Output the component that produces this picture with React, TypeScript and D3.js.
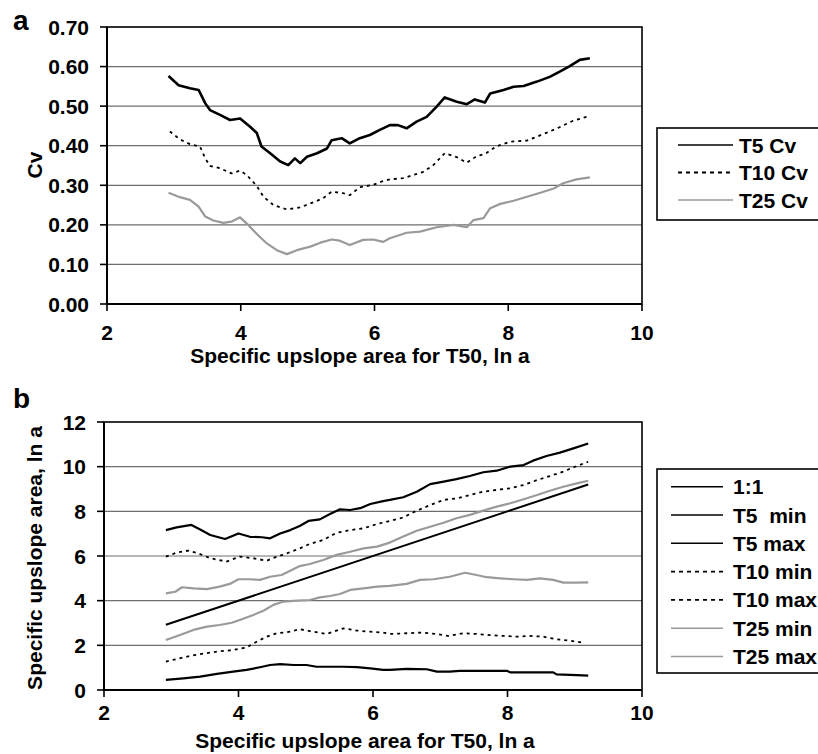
import React from "react";
import * as d3 from "d3";

// Panel a: coefficient of variation vs. T50 upslope area
const xTicks = [2, 4, 6, 8, 10];
const cvTicks = [0, 0.1, 0.2, 0.3, 0.4, 0.5, 0.6, 0.7];
const areaTicks = [0, 2, 4, 6, 8, 10, 12];

const t5Cv: [number, number][] = [
  [2.92, 0.576], [3.07, 0.553], [3.24, 0.545], [3.37, 0.541], [3.47, 0.507], [3.54, 0.49],
  [3.69, 0.478], [3.84, 0.465], [3.99, 0.469], [4.14, 0.448], [4.24, 0.432], [4.31, 0.398],
  [4.44, 0.381], [4.59, 0.36], [4.71, 0.351], [4.81, 0.368], [4.89, 0.356], [4.99, 0.372],
  [5.14, 0.381], [5.29, 0.393], [5.36, 0.414], [5.51, 0.419], [5.63, 0.406], [5.78, 0.419],
  [5.93, 0.427], [6.08, 0.44], [6.23, 0.452], [6.35, 0.452], [6.48, 0.444], [6.63, 0.461],
  [6.78, 0.473], [6.93, 0.499], [7.05, 0.522], [7.23, 0.511], [7.38, 0.505], [7.5, 0.517],
  [7.65, 0.509], [7.73, 0.532], [7.93, 0.541], [8.08, 0.549], [8.23, 0.551], [8.43, 0.562],
  [8.62, 0.574], [8.77, 0.587], [8.92, 0.601], [9.07, 0.617], [9.22, 0.621],
];

const t10Cv: [number, number][] = [
  [2.94, 0.436], [3.09, 0.416], [3.24, 0.404], [3.39, 0.398], [3.47, 0.368], [3.54, 0.349],
  [3.69, 0.343], [3.86, 0.33], [3.99, 0.337], [4.09, 0.326], [4.24, 0.298], [4.34, 0.271],
  [4.49, 0.25], [4.69, 0.239], [4.89, 0.244], [5.04, 0.254], [5.23, 0.267], [5.36, 0.284],
  [5.53, 0.28], [5.63, 0.275], [5.78, 0.295], [5.98, 0.301], [6.13, 0.311], [6.23, 0.315],
  [6.43, 0.318], [6.58, 0.326], [6.73, 0.334], [6.88, 0.351], [7.05, 0.381], [7.23, 0.371],
  [7.38, 0.357], [7.53, 0.374], [7.65, 0.379], [7.83, 0.399], [8.03, 0.41], [8.28, 0.413],
  [8.43, 0.423], [8.62, 0.436], [8.77, 0.447], [8.97, 0.463], [9.17, 0.473],
];

const t25Cv: [number, number][] = [
  [2.92, 0.281], [3.09, 0.27], [3.24, 0.263], [3.37, 0.246], [3.47, 0.221], [3.59, 0.211],
  [3.74, 0.205], [3.86, 0.208], [3.99, 0.219], [4.11, 0.2], [4.24, 0.177], [4.39, 0.153],
  [4.54, 0.136], [4.69, 0.126], [4.84, 0.136], [5.04, 0.145], [5.19, 0.155], [5.36, 0.163],
  [5.48, 0.16], [5.63, 0.149], [5.83, 0.162], [5.98, 0.163], [6.13, 0.157], [6.23, 0.166],
  [6.48, 0.18], [6.68, 0.183], [6.93, 0.194], [7.18, 0.2], [7.38, 0.194], [7.48, 0.212],
  [7.63, 0.217], [7.73, 0.242], [7.88, 0.253], [8.08, 0.261], [8.28, 0.271], [8.48, 0.281],
  [8.68, 0.292], [8.82, 0.305], [9.02, 0.315], [9.22, 0.32],
];

// Panel b: min / max upslope area bounds vs. T50 upslope area
const oneToOne: [number, number][] = [[2.92, 2.92], [9.2, 9.2]];

const t5Max: [number, number][] = [
  [2.92, 7.16], [3.08, 7.28], [3.3, 7.39], [3.43, 7.19], [3.58, 6.94], [3.8, 6.76],
  [4.0, 7.01], [4.17, 6.86], [4.35, 6.84], [4.47, 6.79], [4.62, 7.01], [4.77, 7.16],
  [4.91, 7.34], [5.04, 7.57], [5.21, 7.64], [5.36, 7.88], [5.51, 8.09], [5.66, 8.06],
  [5.81, 8.14], [5.96, 8.33], [6.15, 8.46], [6.25, 8.51], [6.45, 8.63], [6.65, 8.88],
  [6.85, 9.22], [7.05, 9.33], [7.24, 9.44], [7.44, 9.58], [7.64, 9.75], [7.84, 9.82],
  [8.04, 10.0], [8.24, 10.07], [8.38, 10.27], [8.58, 10.48], [8.78, 10.63], [8.98, 10.82],
  [9.2, 11.04],
];

const t10Max: [number, number][] = [
  [2.92, 5.97], [3.08, 6.15], [3.25, 6.24], [3.4, 6.12], [3.58, 5.9], [3.82, 5.75],
  [4.02, 5.97], [4.22, 5.9], [4.42, 5.79], [4.57, 5.97], [4.72, 6.12], [4.91, 6.34],
  [5.06, 6.54], [5.26, 6.72], [5.46, 7.04], [5.66, 7.16], [5.86, 7.24], [6.06, 7.43],
  [6.25, 7.57], [6.45, 7.73], [6.65, 8.03], [6.85, 8.28], [7.05, 8.51], [7.24, 8.58],
  [7.44, 8.73], [7.64, 8.88], [7.84, 8.96], [8.04, 9.03], [8.24, 9.18], [8.44, 9.4],
  [8.63, 9.58], [8.83, 9.78], [9.03, 10.03], [9.2, 10.22],
];

const t25Max: [number, number][] = [
  [2.92, 4.33], [3.06, 4.4], [3.16, 4.6], [3.33, 4.55], [3.53, 4.52], [3.72, 4.63],
  [3.87, 4.75], [4.0, 4.96], [4.17, 4.96], [4.32, 4.93], [4.47, 5.07], [4.64, 5.15],
  [4.77, 5.34], [4.91, 5.55], [5.06, 5.64], [5.26, 5.82], [5.46, 6.05], [5.66, 6.19],
  [5.86, 6.34], [6.06, 6.42], [6.25, 6.6], [6.45, 6.87], [6.65, 7.13], [6.85, 7.31],
  [7.05, 7.49], [7.24, 7.69], [7.44, 7.84], [7.64, 8.03], [7.84, 8.21], [8.04, 8.36],
  [8.24, 8.54], [8.44, 8.73], [8.63, 8.92], [8.83, 9.1], [9.03, 9.25], [9.2, 9.37],
];

const t25Min: [number, number][] = [
  [2.92, 2.24], [3.13, 2.46], [3.33, 2.69], [3.53, 2.84], [3.72, 2.91], [3.9, 3.01],
  [4.05, 3.17], [4.22, 3.36], [4.37, 3.55], [4.52, 3.81], [4.67, 3.96], [4.87, 4.0],
  [5.06, 4.03], [5.21, 4.15], [5.36, 4.21], [5.51, 4.3], [5.66, 4.48], [5.86, 4.55],
  [6.06, 4.63], [6.25, 4.66], [6.5, 4.75], [6.7, 4.93], [6.9, 4.96], [7.14, 5.07],
  [7.37, 5.25], [7.54, 5.15], [7.69, 5.05], [7.89, 5.0], [8.09, 4.96], [8.29, 4.93],
  [8.48, 5.0], [8.68, 4.93], [8.83, 4.81], [9.03, 4.81], [9.2, 4.82],
];

const t10Min: [number, number][] = [
  [2.92, 1.27], [3.18, 1.46], [3.43, 1.61], [3.68, 1.72], [3.92, 1.79], [4.12, 1.91],
  [4.27, 2.16], [4.42, 2.39], [4.57, 2.54], [4.77, 2.61], [4.91, 2.72], [5.11, 2.61],
  [5.31, 2.51], [5.41, 2.61], [5.56, 2.76], [5.76, 2.66], [5.96, 2.61], [6.15, 2.57],
  [6.25, 2.51], [6.5, 2.54], [6.72, 2.57], [6.95, 2.51], [7.12, 2.42], [7.34, 2.54],
  [7.54, 2.51], [7.74, 2.46], [7.94, 2.42], [8.14, 2.39], [8.33, 2.42], [8.53, 2.39],
  [8.73, 2.27], [8.93, 2.21], [9.12, 2.12],
];

const t5Min: [number, number][] = [
  [2.92, 0.45], [3.18, 0.52], [3.43, 0.6], [3.68, 0.72], [3.92, 0.82], [4.12, 0.9],
  [4.32, 1.02], [4.47, 1.12], [4.62, 1.16], [4.82, 1.12], [5.01, 1.12], [5.16, 1.04],
  [5.36, 1.04], [5.56, 1.04], [5.76, 1.02], [5.96, 0.97], [6.15, 0.9], [6.25, 0.9],
  [6.5, 0.95], [6.8, 0.93], [6.95, 0.82], [7.14, 0.82], [7.29, 0.86], [7.49, 0.86],
  [7.74, 0.86], [7.99, 0.86], [8.04, 0.79], [8.33, 0.79], [8.68, 0.79], [8.73, 0.7],
  [9.03, 0.67], [9.2, 0.64],
];

const legendA = ["T5 Cv", "T10 Cv", "T25 Cv"];
const legendB = ["1:1", "T5\u00a0 min", "T5 max", "T10 min", "T10 max", "T25 min", "T25 max"];

const FONT = "'Liberation Sans', Arial, Helvetica, sans-serif";
const GRAY = "#9a9a9a";
const GRID = "#6e6e6e";

type Style = { stroke: string; width: number; dash?: string };
const solidBlack: Style = { stroke: "#000", width: 2.2 };
const dashedBlack: Style = { stroke: "#000", width: 1.8, dash: "3,4" };
const solidGray: Style = { stroke: GRAY, width: 2.2 };

interface PanelProps {
  letter: string;
  letterY: number;
  x0: number;
  x1: number;
  top: number;
  bottom: number;
  yDomain: [number, number];
  yTicks: number[];
  yFmt: (v: number) => string;
  yTitle: string;
  yTitleY: number;
  xTickY: number;
  xTitleX: number;
  xTitleY: number;
  series: { data: [number, number][]; style: Style }[];
  legend: { labels: string[]; styles: Style[]; top: number; bottom: number; firstRow: number; rowGap: number; lineX0: number; lineX1: number; textX: number };
}

function Panel(p: PanelProps) {
  const x = d3.scaleLinear().domain([2, 10]).range([p.x0, p.x1]);
  const y = d3.scaleLinear().domain(p.yDomain).range([p.bottom, p.top]);
  const line = d3
    .line<[number, number]>()
    .x((d) => x(d[0]))
    .y((d) => y(d[1]));
  const fs = 21;
  return (
    <g>
      <text x={13} y={p.letterY} fontSize={28} fontWeight="bold" fontFamily={FONT}>
        {p.letter}
      </text>
      {/* horizontal gridlines */}
      {p.yTicks.slice(1, -1).map((t) => (
        <line key={"g" + t} x1={p.x0} x2={p.x1} y1={y(t)} y2={y(t)} stroke={GRID} strokeWidth={1.2} />
      ))}
      {/* series */}
      {p.series.map((s, i) => (
        <path
          key={"s" + i}
          d={line(s.data) || ""}
          fill="none"
          stroke={s.style.stroke}
          strokeWidth={s.style.width}
          strokeDasharray={s.style.dash}
          strokeLinejoin="round"
        />
      ))}
      {/* frame */}
      <rect x={p.x0} y={p.top} width={p.x1 - p.x0} height={p.bottom - p.top} fill="none" stroke="#000" strokeWidth={1.6} />
      <line x1={p.x0} x2={p.x0} y1={p.top} y2={p.bottom} stroke="#000" strokeWidth={2} />
      <line x1={p.x0} x2={p.x1} y1={p.bottom} y2={p.bottom} stroke="#000" strokeWidth={2} />
      {/* y ticks */}
      {p.yTicks.map((t) => (
        <g key={"y" + t}>
          <line x1={p.x0 - 7} x2={p.x0} y1={y(t)} y2={y(t)} stroke="#000" strokeWidth={1.6} />
          <text x={p.x0 - 18} y={y(t)} dy="0.36em" textAnchor="end" fontSize={fs} fontWeight="bold" fontFamily={FONT}>
            {p.yFmt(t)}
          </text>
        </g>
      ))}
      {/* x ticks */}
      {xTicks.map((t) => (
        <g key={"x" + t}>
          <line x1={x(t)} x2={x(t)} y1={p.bottom} y2={p.bottom + 7} stroke="#000" strokeWidth={1.6} />
          <text x={x(t)} y={p.xTickY} textAnchor="middle" fontSize={fs} fontWeight="bold" fontFamily={FONT}>
            {t}
          </text>
        </g>
      ))}
      <text x={p.xTitleX} y={p.xTitleY} textAnchor="middle" fontSize={fs} fontWeight="bold" fontFamily={FONT}>
        Specific upslope area for T50, ln a
      </text>
      <text
        transform={`translate(42,${p.yTitleY}) rotate(-90)`}
        textAnchor="middle"
        fontSize={fs}
        fontWeight="bold"
        fontFamily={FONT}
      >
        {p.yTitle}
      </text>
      {/* legend */}
      <rect x={657} y={p.legend.top} width={200} height={p.legend.bottom - p.legend.top} fill="#fff" stroke="#000" strokeWidth={1.6} />
      {p.legend.labels.map((lab, i) => {
        const ry = p.legend.firstRow + i * p.legend.rowGap;
        const st = p.legend.styles[i];
        return (
          <g key={"l" + i}>
            <line
              x1={p.legend.lineX0}
              x2={p.legend.lineX1}
              y1={ry}
              y2={ry}
              stroke={st.stroke}
              strokeWidth={st.dash ? 1.8 : 1.6}
              strokeDasharray={st.dash ? "4,4" : undefined}
            />
            <text x={p.legend.textX} y={ry} dy="0.36em" fontSize={fs} fontWeight="bold" fontFamily={FONT}>
              {lab}
            </text>
          </g>
        );
      })}
    </g>
  );
}

export default function App() {
  const stylesA = [solidBlack, dashedBlack, solidGray];
  const stylesB = [solidBlack, solidBlack, solidBlack, dashedBlack, dashedBlack, solidGray, solidGray];
  return (
    <svg
      width={818}
      height={754}
      viewBox="0 0 818 754"
      style={{ position: "absolute", left: 0, top: 0, background: "#fff" }}
    >
      <rect width={818} height={754} fill="#fff" />
      <Panel
        letter="a"
        letterY={30}
        x0={107}
        x1={642}
        top={27}
        bottom={304}
        yDomain={[0, 0.7]}
        yTicks={cvTicks}
        yFmt={d3.format(".2f")}
        yTitle="Cv"
        yTitleY={165}
        xTickY={340}
        xTitleX={360}
        xTitleY={363}
        series={[
          { data: t25Cv, style: solidGray },
          { data: t10Cv, style: dashedBlack },
          { data: t5Cv, style: { ...solidBlack, width: 2.6 } },
        ]}
        legend={{ labels: legendA, styles: stylesA, top: 128, bottom: 220, firstRow: 145, rowGap: 27.5, lineX0: 678, lineX1: 733, textX: 739 }}
      />
      <Panel
        letter="b"
        letterY={408}
        x0={104}
        x1={642}
        top={422}
        bottom={690}
        yDomain={[0, 12]}
        yTicks={areaTicks}
        yFmt={d3.format("d")}
        yTitle="Specific upslope area, ln a"
        yTitleY={558}
        xTickY={720}
        xTitleX={365}
        xTitleY={748}
        series={[
          { data: t25Max, style: solidGray },
          { data: t25Min, style: solidGray },
          { data: t10Max, style: dashedBlack },
          { data: t10Min, style: dashedBlack },
          { data: oneToOne, style: { ...solidBlack, width: 2 } },
          { data: t5Max, style: solidBlack },
          { data: t5Min, style: solidBlack },
        ]}
        legend={{ labels: legendB, styles: stylesB, top: 469, bottom: 673, firstRow: 486.7, rowGap: 28.3, lineX0: 671, lineX1: 723, textX: 733 }}
      />
    </svg>
  );
}
